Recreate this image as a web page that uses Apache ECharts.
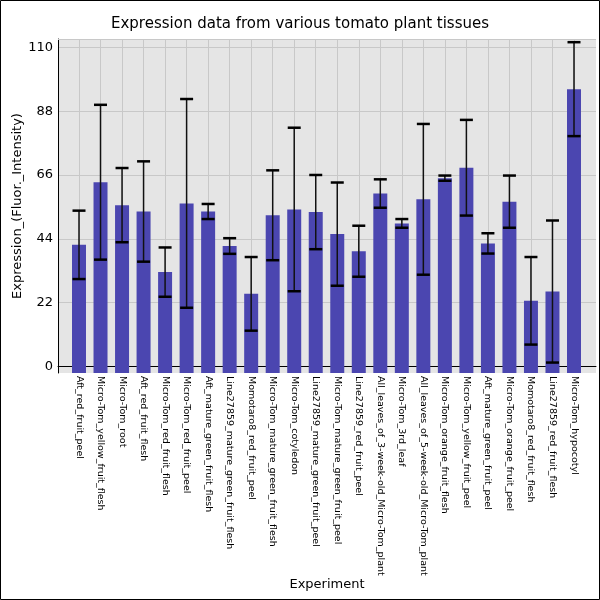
<!DOCTYPE html>
<html>
<head>
<meta charset="utf-8">
<script src="https://cdn.jsdelivr.net/npm/echarts@6/dist/echarts.min.js"></script>
<style>
  html, body { margin: 0; padding: 0; background: #fff; }
  #chart { width: 600px; height: 600px; }
</style>
</head>
<body>
<div id="chart"></div>
<script>
// tissue names, in plot order
const experiments = [
  'Aft_red_fruit_peel',
  'Micro-Tom_yellow_fruit_flesh',
  'Micro-Tom_root',
  'Aft_red_fruit_flesh',
  'Micro-Tom_red_fruit_flesh',
  'Micro-Tom_red_fruit_peel',
  'Aft_mature_green_fruit_flesh',
  'Line27859_mature_green_fruit_flesh',
  'Momotaro8_red_fruit_peel',
  'Micro-Tom_mature_green_fruit_flesh',
  'Micro-Tom_cotyledon',
  'Line27859_mature_green_fruit_peel',
  'Micro-Tom_mature_green_fruit_peel',
  'Line27859_red_fruit_peel',
  'All_leaves_of_3-week-old_Micro-Tom_plant',
  'Micro-Tom_3rd_leaf',
  'All_leaves_of_5-week-old_Micro-Tom_plant',
  'Micro-Tom_orange_fruit_flesh',
  'Micro-Tom_yellow_fruit_peel',
  'Aft_mature_green_fruit_peel',
  'Micro-Tom_orange_fruit_peel',
  'Momotaro8_red_fruit_flesh',
  'Line27859_red_fruit_flesh',
  'Micro-Tom_hypocotyl'
]

// mean expression and error (+/-)
const expression = [41.9, 63.5, 55.6, 53.4, 32.5, 56.2, 53.4, 41.5, 25.0, 52.1, 54.1, 53.2,
  45.6, 39.7, 59.6, 49.3, 57.6, 64.9, 68.5, 42.4, 56.8, 22.6, 25.8, 95.6]
const errors = [11.8, 26.7, 12.8, 17.3, 8.5, 36.0, 2.6, 2.7, 12.7, 15.5, 28.2, 12.8,
  17.8, 8.8, 4.9, 1.5, 26.0, 0.9, 16.5, 3.5, 9.0, 15.1, 24.5, 16.2]

const yTicks = [0, 22, 44, 66, 88, 110]
const yMin = -2.3
const yMax = 112.9

const font = 'DejaVu Sans'

const chart = echarts.init(document.getElementById('chart'))

const option = {
  backgroundColor: '#fff',
  animation: false,
  title: {
    text: 'Expression data from various tomato plant tissues',
    left: 'center',
    top: 12,
    textStyle: { fontFamily: font, fontSize: 15, fontWeight: 'normal', color: '#000' }
  },
  graphic: [
    {
      type: 'rect',
      shape: { x: 0.5, y: 0.5, width: 599, height: 599 },
      style: { fill: 'none', stroke: '#000', lineWidth: 1 },
      z: 100
    },
    {
      type: 'line',
      shape: { x1: 58, y1: 39.5, x2: 596, y2: 39.5 },
      style: { stroke: '#c8c8c8', lineWidth: 1 },
      z: 1
    }
  ],
  grid: [
    // background / axes grid
    { left: 58, right: 4, top: 39, bottom: 227, show: true, backgroundColor: '#e5e5e5', borderWidth: 0 },
    // bars grid (inset so bar centres sit on the vertical lines)
    { left: 79, right: 26, top: 39, bottom: 227 }
  ],
  xAxis: [
    {
      gridIndex: 0,
      type: 'value',
      min: 0,
      max: 1,
      name: 'Experiment',
      nameLocation: 'middle',
      nameGap: 205,
      nameMoveOverlap: false,
      nameTextStyle: { fontFamily: font, fontSize: 13, color: '#000' },
      axisLine: { show: true, lineStyle: { color: '#000', width: 1 } },
      axisTick: { show: false },
      axisLabel: { show: false },
      splitLine: { show: false }
    },
    {
      gridIndex: 1,
      type: 'category',
      data: experiments,
      boundaryGap: false,
      axisLine: { show: false },
      axisTick: { show: false },
      axisLabel: {
        interval: 0,
        rotate: -90,
        margin: 3,
        fontFamily: font,
        fontSize: 9.5,
        color: '#000'
      },
      splitLine: { show: true, interval: 0, lineStyle: { color: '#c8c8c8', width: 1 } }
    }
  ],
  yAxis: [
    {
      gridIndex: 0,
      type: 'value',
      min: yMin,
      max: yMax,
      name: 'Expression_(Fluor._Intensity)',
      nameLocation: 'middle',
      nameGap: 34,
      nameMoveOverlap: false,
      nameTextStyle: { fontFamily: font, fontSize: 13, color: '#000' },
      axisLine: { show: true, lineStyle: { color: '#000', width: 1 } },
      axisTick: { show: false, customValues: yTicks },
      axisLabel: { customValues: yTicks, fontFamily: font, fontSize: 13, color: '#000', margin: 5 },
      splitLine: { show: true, lineStyle: { color: '#c8c8c8', width: 1 } }
    },
    {
      gridIndex: 1,
      type: 'value',
      min: yMin,
      max: yMax,
      show: false,
      splitLine: { show: false }
    }
  ],
  series: [
    {
      name: 'Expression',
      type: 'custom',
      xAxisIndex: 1,
      yAxisIndex: 1,
      clip: false,
      z: 3,
      data: expression.map((v, i) => [i, v]),
      renderItem: function (params, api) {
        const top = api.coord([api.value(0), api.value(1)])
        const base = api.coord([api.value(0), yMin])
        const w = api.size([1, 0])[0] * 0.65
        return {
          type: 'rect',
          shape: { x: top[0] - w / 2, y: top[1], width: w, height: base[1] - top[1] },
          style: { fill: '#4b46b0' }
        }
      }
    },
    {
      name: 'Error',
      type: 'custom',
      xAxisIndex: 1,
      yAxisIndex: 1,
      clip: false,
      z: 4,
      data: expression.map((v, i) => [i, v - errors[i], v + errors[i]]),
      renderItem: function (params, api) {
        const lo = api.coord([api.value(0), api.value(1)])
        const hi = api.coord([api.value(0), api.value(2)])
        const half = 6.5
        return {
          type: 'group',
          children: [
            { type: 'line', shape: { x1: lo[0], y1: lo[1], x2: hi[0], y2: hi[1] },
              style: { stroke: '#111', lineWidth: 1.5 } },
            { type: 'line', shape: { x1: lo[0] - half, y1: lo[1], x2: lo[0] + half, y2: lo[1] },
              style: { stroke: '#000', lineWidth: 2.5 } },
            { type: 'line', shape: { x1: hi[0] - half, y1: hi[1], x2: hi[0] + half, y2: hi[1] },
              style: { stroke: '#000', lineWidth: 2.5 } }
          ]
        }
      }
    }
  ]
}

chart.setOption(option)
</script>
</body>
</html>
